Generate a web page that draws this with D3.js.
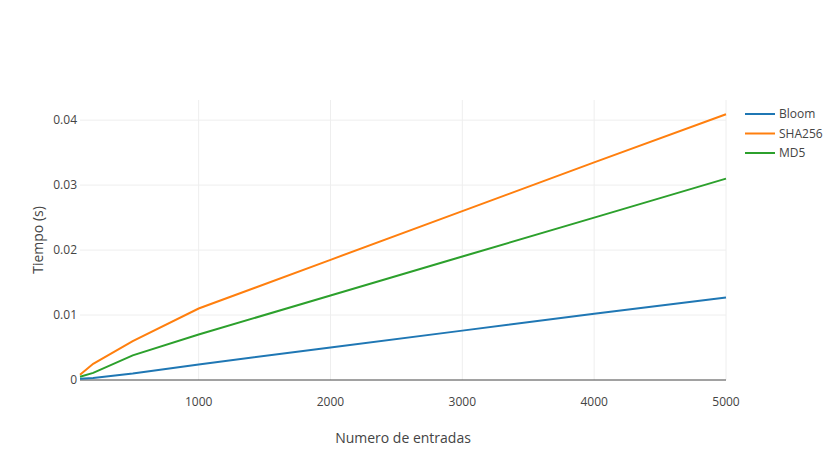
<!DOCTYPE html>
<html>
<head>
<meta charset="utf-8">
<script src="https://cdn.jsdelivr.net/npm/d3@7"></script>
<style>
body { margin: 0; background: #fff; }
text { font-family: "Open Sans", sans-serif; fill: #444; }
</style>
</head>
<body>
<svg id="chart" width="840" height="471"></svg>
<script>
const entradas = [100, 200, 500, 1000, 2000, 3000, 4000, 5000];
const bloom = [0.0002, 0.0003, 0.001, 0.0024, 0.005, 0.0076, 0.0102, 0.0127];
const sha256 = [0.0008, 0.0025, 0.006, 0.011, 0.0185, 0.026, 0.0335, 0.0409];
const md5 = [0.0005, 0.0011, 0.0038, 0.007, 0.013, 0.019, 0.025, 0.031];
const xTicks = [1000, 2000, 3000, 4000, 5000];
const yTicks = [0, 0.01, 0.02, 0.03, 0.04];

const series = [
    {name: "Bloom", values: bloom, color: "#1f77b4"},
    {name: "SHA256", values: sha256, color: "#ff7f0e"},
    {name: "MD5", values: md5, color: "#2ca02c"}
];

const m = {l: 80, r: 114, t: 100, b: 91};
const w = 840, h = 471;
const svg = d3.select("#chart");

const x = d3.scaleLinear().domain([100, 5000]).range([m.l, w - m.r]);
const y = d3.scaleLinear().domain([0, 0.0431]).range([h - m.b, m.t]);

// grid
svg.append("g").selectAll("line").data(xTicks).enter().append("line")
    .attr("x1", d => x(d)).attr("x2", d => x(d))
    .attr("y1", m.t).attr("y2", h - m.b)
    .attr("stroke", "#eee");
svg.append("g").selectAll("line").data(yTicks.slice(1)).enter().append("line")
    .attr("x1", m.l).attr("x2", w - m.r)
    .attr("y1", d => y(d)).attr("y2", d => y(d))
    .attr("stroke", "#eee");
svg.append("line")
    .attr("x1", m.l).attr("x2", w - m.r)
    .attr("y1", y(0)).attr("y2", y(0))
    .attr("stroke", "#444");

// tick labels
svg.append("g").selectAll("text").data(xTicks).enter().append("text")
    .attr("x", d => x(d)).attr("y", h - m.b + 26)
    .attr("text-anchor", "middle").attr("font-size", "12px")
    .text(d => d);
svg.append("g").selectAll("text").data(yTicks).enter().append("text")
    .attr("x", m.l - 3).attr("y", d => y(d)).attr("dy", "0.35em")
    .attr("text-anchor", "end").attr("font-size", "12px")
    .text(d => d === 0 ? "0" : d3.format(".2f")(d));

// axis titles
svg.append("text").attr("x", (m.l + w - m.r) / 2).attr("y", 443)
    .attr("text-anchor", "middle").attr("font-size", "14px")
    .text("Numero de entradas");
svg.append("text")
    .attr("transform", `translate(43,${(m.t + h - m.b) / 2}) rotate(-90)`)
    .attr("text-anchor", "middle").attr("font-size", "14px")
    .text("Tiempo (s)");

// lines
const line = d3.line().x((d, i) => x(entradas[i])).y(d => y(d));
svg.append("g").selectAll("path").data(series).enter().append("path")
    .attr("d", d => line(d.values))
    .attr("fill", "none").attr("stroke", d => d.color).attr("stroke-width", 2);

// legend
const lg = svg.append("g").selectAll("g").data(series).enter().append("g")
    .attr("transform", (d, i) => `translate(745,${114 + i * 19.5})`);
lg.append("line").attr("x1", 0).attr("x2", 30)
    .attr("stroke", d => d.color).attr("stroke-width", 2);
lg.append("text").attr("x", 34).attr("dy", "0.35em").attr("font-size", "12px")
    .text(d => d.name);
</script>
</body>
</html>
